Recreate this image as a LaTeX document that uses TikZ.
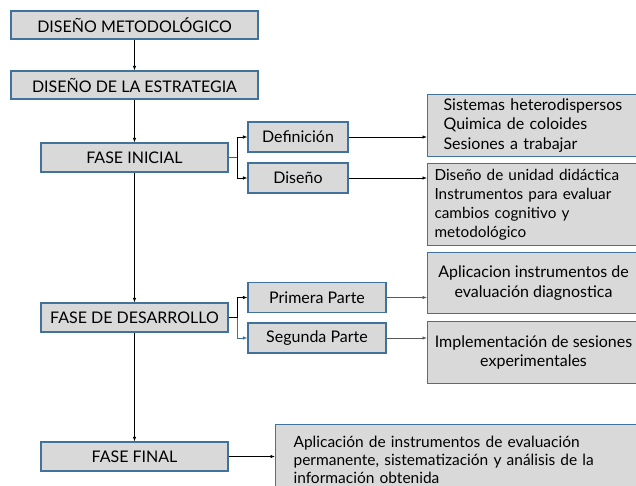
\documentclass[tikz,border=0pt]{standalone}
\usepackage{fontspec}
\setmainfont{Lato}
\usepackage{xcolor}
\definecolor{cajagris}{HTML}{D9D9D9}
\definecolor{bordeazul}{HTML}{41729C}
\definecolor{lineagris}{HTML}{595959}
\usepackage{tikz}
\usetikzlibrary{positioning,arrows.meta}

\begin{document}
\begin{tikzpicture}[x=1pt, y=-1pt, font=\fontsize{16}{19.5}\selectfont,
	caja/.style={
		rectangle, inner sep = 0pt, line width = 1.1pt,
		draw = bordeazul, fill = cajagris, align = center},
	texto/.style={
		caja, anchor = north west, inner ysep = 3pt},
	flecha/.style={-{Latex[length=4.5pt,width=3.5pt]}, line width = 0.8pt}]
	\clip (0,0) rectangle (636,486);
	\fill[white] (0,0) rectangle (636,486);
	% columna principal
	\node (A) [caja, minimum width = 247pt, minimum height = 28pt] at (134.5,25) {DISEÑO METODOLÓGICO};
	\node (AA) [caja, minimum width = 247pt, minimum height = 28pt] at (134.5,85) {DISEÑO DE LA ESTRATEGIA};
	\node (B) [caja, minimum width = 187pt, minimum height = 29pt] at (134.5,157.5) {FASE INICIAL};
	\node (C) [caja, minimum width = 187pt, minimum height = 29pt] at (134.5,317.5) {FASE DE DESARROLLO};
	\node (D) [caja, minimum width = 187pt, minimum height = 29pt] at (134.5,456.5) {FASE FINAL};
	% fase inicial
	\node (BA) [caja, minimum width = 100pt, minimum height = 30pt] at (298,137) {Definición};
	\node (BB) [caja, minimum width = 100pt, minimum height = 30pt] at (298,178) {Diseño};
	\node (BAA) [texto, text width = 180pt, inner xsep = 16pt, minimum height = 62pt, align = left] at (427,94)
		{Sistemas heterodispersos\\Quimica de coloides\\Sesiones a trabajar};
	\node (BBA) [texto, text width = 199pt, inner xsep = 7pt, minimum height = 82pt, align = left,
		font = \fontsize{15.3}{19}\selectfont] at (427,163)
		{Diseño de unidad didáctica\\Instrumentos para evaluar\\cambios cognitivo y\\metodológico};
	% fase de desarrollo
	\node (CA) [caja, minimum width = 138pt, minimum height = 30pt] at (317,297.5) {Primera Parte};
	\node (CB) [caja, minimum width = 138pt, minimum height = 30pt] at (317,338) {Segunda Parte};
	\node (CAA) [caja, minimum width = 212pt, minimum height = 61pt, anchor = north west] at (427,252)
		{Aplicacion instrumentos de\\evaluación diagnostica};
	\node (CBA) [caja, minimum width = 212pt, minimum height = 62pt, anchor = north west] at (427,321)
		{Implementación de sesiones\\experimentales};
	% fase final
	\node (DA) [texto, text width = 330pt, inner xsep = 18pt, align = left, inner ysep = 4pt,
		minimum height = 70pt, font = \fontsize{15.5}{18}\selectfont] at (275,424)
		{Aplicación de instrumentos de evaluación\\permanente, sistematización y análisis de la\\información obtenida};
	% conectores
	\draw[flecha] (A) -- (AA);
	\draw[flecha] (AA) -- (B);
	\draw[flecha] (B) -- (C);
	\draw[flecha] (C) -- (D);
	\coordinate (jB) at (237,157.5);
	\coordinate (jC) at (237,317.5);
	\draw[lineagris, line width = 1pt] (B.east) -- (jB);
	\draw[flecha] (jB) |- (BA.west);
	\draw[flecha] (jB) |- (BB.west);
	\draw[line width = 1pt] (C.east) -- (jC);
	\draw[flecha] (jC) |- (CA.west);
	\draw[flecha, bordeazul] (jC) |- (CB.west);
	\draw[flecha] (BA.east) -- (BA.east -| BAA.west);
	\draw[flecha] (BB.east) -- (BB.east -| BBA.west);
	\draw[flecha, lineagris] (CA.east) -- (CA.east -| CAA.west);
	\draw[flecha, lineagris] (CB.east) -- (CB.east -| CBA.west);
	\draw[flecha] (D.east) -- (D.east -| DA.west);
\end{tikzpicture}
\end{document}
